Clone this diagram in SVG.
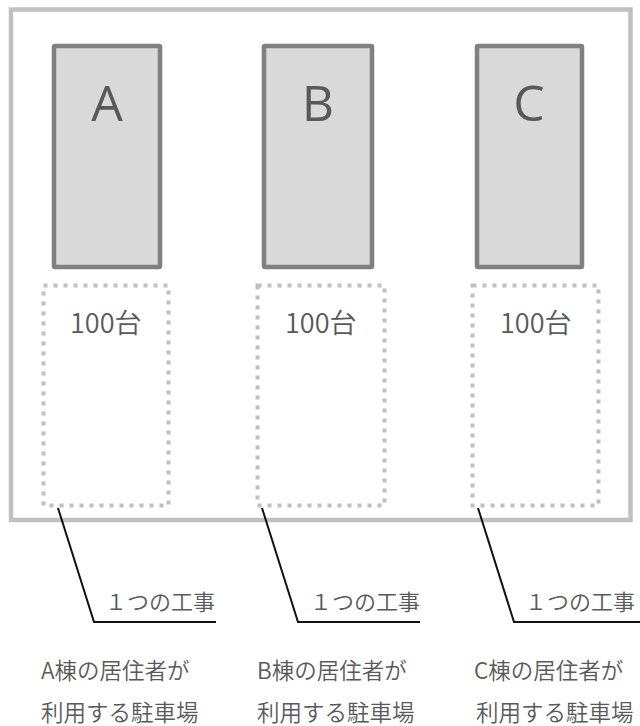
<svg xmlns="http://www.w3.org/2000/svg" width="640" height="726" viewBox="0 0 640 726">
<style>
.frame{fill:none;stroke:#c0c0c0;stroke-width:4.5}
.bld{fill:#d9d9d9;stroke:#808080;stroke-width:4.5}
.lot{fill:none;stroke:#bfbfbf;stroke-width:4;stroke-dasharray:4 6}
.big{font-family:"Open Sans","DejaVu Sans",sans-serif;font-weight:400;font-size:50px;fill:#595959;text-anchor:middle}
.cnt{font-family:"Noto Sans CJK JP",sans-serif;font-weight:350;font-size:27px;fill:#595959}
.lbl{font-family:"Noto Sans CJK JP",sans-serif;font-weight:350;font-size:22px;fill:#595959}
.cap{font-family:"Noto Sans CJK JP",sans-serif;font-weight:350;font-size:22.5px;fill:#595959}
.lead{fill:none;stroke:#111;stroke-width:2}
</style>
<rect class="frame" x="11" y="9.5" width="619.5" height="510.5"/>
<g id="buildingA"><rect class="bld" x="54" y="46" width="106" height="221" rx="1"/><text class="big" x="107" y="121">A</text></g>
<g id="buildingB"><rect class="bld" x="264" y="46" width="108" height="221" rx="1"/><text class="big" x="318" y="121">B</text></g>
<g id="buildingC"><rect class="bld" x="477" y="46" width="105" height="221" rx="1"/><text class="big" x="529" y="121">C</text></g>
<g id="lotA"><rect class="lot" x="43.5" y="285.5" width="125" height="220"/><text class="cnt" x="70" y="333">100台</text></g>
<g id="lotB"><rect class="lot" x="257.5" y="285.5" width="127" height="220"/><text class="cnt" x="285" y="333">100台</text></g>
<g id="lotC"><rect class="lot" x="472.5" y="285.5" width="126" height="220"/><text class="cnt" x="500" y="333">100台</text></g>
<g id="connectors">
<polyline class="lead" points="58,508 94,622 216,622"/>
<polyline class="lead" points="262,508 298,622 420,622"/>
<polyline class="lead" points="478,508 514,622 640,622"/>
</g>
<g id="labelA"><text class="lbl" x="105" y="610">１つの工事</text><text class="cap" x="41" y="679">A棟の居住者が</text><text class="cap" x="41" y="721">利用する駐車場</text></g>
<g id="labelB"><text class="lbl" x="310" y="610">１つの工事</text><text class="cap" x="257" y="679">B棟の居住者が</text><text class="cap" x="257" y="721">利用する駐車場</text></g>
<g id="labelC"><text class="lbl" x="525" y="610">１つの工事</text><text class="cap" x="474" y="679">C棟の居住者が</text><text class="cap" x="476" y="721">利用する駐車場</text></g>
</svg>
